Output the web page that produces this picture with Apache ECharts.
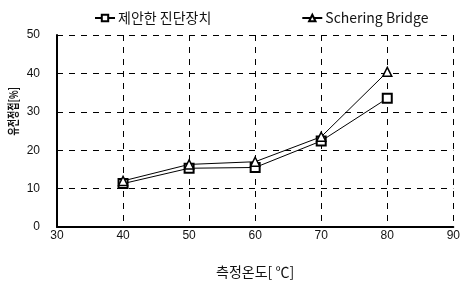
<!DOCTYPE html>
<html><head><meta charset="utf-8">
<script src="https://cdn.jsdelivr.net/npm/echarts@6/dist/echarts.min.js"></script>
<style>html,body{margin:0;padding:0;background:#fff}#c{width:463px;height:293px}</style>
</head><body><div id="c"></div>
<script>
const temps = [40, 50, 60, 70, 80];
const proposed = [11.3, 15.3, 15.5, 22.4, 33.5];
const schering = [12.0, 16.3, 17.0, 23.5, 40.4];
const seriesNames = ['제안한 진단장치', 'Schering Bridge'];
const xTicks = [30, 40, 50, 60, 70, 80, 90];
const yTicks = [0, 10, 20, 30, 40, 50];

const font = '"Liberation Sans", Arial, sans-serif';
const kfont = '"Noto Sans CJK KR", sans-serif';
const chart = echarts.init(document.getElementById('c'));
chart.setOption({
  animation: false,
  backgroundColor: '#fff',
  legend: {
    top: 6, left: 89, itemGap: 90, itemWidth: 20, itemHeight: 8,
    textStyle: {color: '#111', fontSize: 14, fontFamily: kfont, padding: [0, 0, 0, -2]},
    data: seriesNames
  },
  graphic: [{
    type: 'text', left: 7, top: 87, rotation: Math.PI / 2, scaleX: 0.75,
    style: {text: '유전정접[%]', fill: '#111', font: 'bold 12px "Noto Sans CJK KR", sans-serif'},
    originX: 0, originY: 0
  }],
  grid: {left: 57, right: 6, top: 35, bottom: 66},
  xAxis: {
    type: 'value', min: 30, max: 90, interval: 10,
    name: '측정온도[ ℃]', nameLocation: 'middle', nameGap: 38,
    nameTextStyle: {color: '#111', fontSize: 14, fontFamily: kfont},
    axisLine: {show: true, lineStyle: {color: '#000', width: 2}},
    axisTick: {show: false},
    axisLabel: {color: '#111', fontSize: 12, fontFamily: font, margin: 3},
    splitLine: {show: true, lineStyle: {color: '#000', type: [6, 6], width: 1}}
  },
  yAxis: {
    type: 'value', min: 0, max: 50, interval: 10,
    axisLine: {show: true, lineStyle: {color: '#000', width: 2}},
    axisTick: {show: false},
    axisLabel: {color: '#111', fontSize: 12, fontFamily: font, margin: 17},
    splitLine: {show: true, lineStyle: {color: '#000', type: [6, 6], width: 1}}
  },
  series: [
    {
      name: seriesNames[0], type: 'line',
      data: temps.map((t, i) => [t, proposed[i]]),
      symbol: 'rect', symbolSize: 9,
      lineStyle: {color: '#000', width: 1},
      itemStyle: {color: '#fff', borderColor: '#000', borderWidth: 2}
    },
    {
      name: seriesNames[1], type: 'line',
      data: temps.map((t, i) => [t, schering[i]]),
      symbol: 'triangle', symbolSize: 9,
      lineStyle: {color: '#000', width: 1},
      itemStyle: {color: '#fff', borderColor: '#000', borderWidth: 1.5}
    }
  ]
});
</script></body></html>
